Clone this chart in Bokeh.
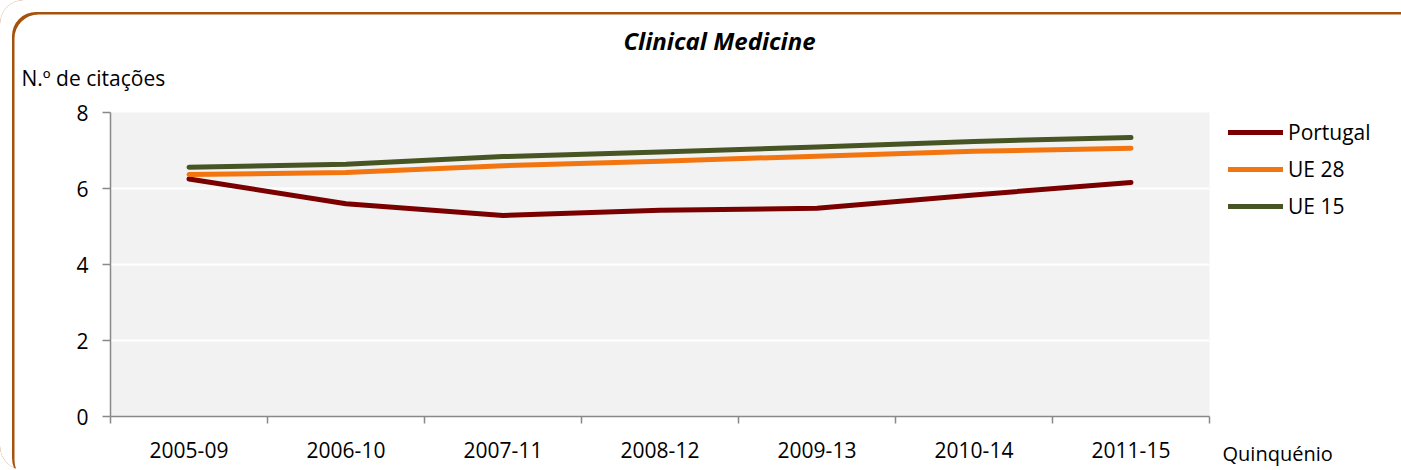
from bokeh.plotting import figure
from bokeh.models import (Range1d, FixedTicker, Legend, LegendItem, Label)
from bokeh.embed import file_html
from bokeh.resources import INLINE

categories = ["2005-09", "2006-10", "2007-11", "2008-12", "2009-13", "2010-14", "2011-15"]
portugal = [6.25, 5.60, 5.29, 5.43, 5.48, 5.83, 6.16]
ue28 = [6.37, 6.42, 6.60, 6.72, 6.85, 6.98, 7.06]
ue15 = [6.56, 6.64, 6.84, 6.96, 7.09, 7.24, 7.34]
y_ticks = [0, 2, 4, 6, 8]

FONT = "Open Sans"
FS = "21px"

xs = [i + 0.5 for i in range(len(categories))]

p = figure(frame_width=1099, frame_height=304, x_range=Range1d(0, len(categories)),
           y_range=Range1d(0, 8), output_backend="svg", toolbar_location=None,
           min_border_left=110, min_border_right=192, min_border_top=112,
           min_border_bottom=54)
p.background_fill_color = "#F2F2F2"
p.border_fill_color = None
p.outline_line_color = None
p.styles = {"border-radius": "24px",
            "box-shadow": "inset 12px 12px 0 0 #ffffff, inset 14.5px 14.5px 0 0 #A5520C"}

# axes
p.xaxis.ticker = FixedTicker(ticks=xs, minor_ticks=list(range(len(categories) + 1)))
p.xaxis.major_label_overrides = {x: c for x, c in zip(xs, categories)}
p.xaxis.major_tick_line_color = None
p.xaxis.major_tick_out = 0
p.xaxis.major_tick_in = 0
p.xaxis.minor_tick_out = 7
p.xaxis.minor_tick_in = 0
p.xaxis.minor_tick_line_color = "#898989"
p.xaxis.minor_tick_line_width = 1.5
p.xaxis.major_label_standoff = 18

p.yaxis.ticker = FixedTicker(ticks=y_ticks)
p.yaxis.major_tick_out = 8
p.yaxis.major_tick_in = 0
p.yaxis.minor_tick_line_color = None
p.yaxis.major_tick_line_color = "#898989"
p.yaxis.major_tick_line_width = 1.5
p.yaxis.major_label_standoff = 14

for ax in (p.xaxis, p.yaxis):
    ax.axis_line_color = "#898989"
    ax.axis_line_width = 1.5
    ax.major_label_text_font = FONT
    ax.major_label_text_font_size = FS
    ax.major_label_text_color = "#000000"

p.xgrid.grid_line_color = None
p.ygrid.ticker = FixedTicker(ticks=y_ticks)
p.ygrid.grid_line_color = "#FFFFFF"
p.ygrid.grid_line_width = 2

# series
r1 = p.line(xs, portugal, line_color="#7A0000", line_width=5, line_cap="round", line_join="round")
r2 = p.line(xs, ue28, line_color="#F27510", line_width=5, line_cap="round", line_join="round")
r3 = p.line(xs, ue15, line_color="#475424", line_width=5, line_cap="round", line_join="round")

legend = Legend(items=[LegendItem(label="Portugal", renderers=[r1]),
                       LegendItem(label="UE 28", renderers=[r2]),
                       LegendItem(label="UE 15", renderers=[r3])],
                location=(19, 195), orientation="vertical",
                glyph_width=55, glyph_height=30, label_height=30, spacing=7,
                label_standoff=5, padding=0, margin=0,
                border_line_color=None, background_fill_alpha=0,
                label_text_font=FONT, label_text_font_size=FS,
                label_text_color="#000000")
p.add_layout(legend, "right")

# texts (placed in side panels so they are not clipped to the plot frame)
p.add_layout(Label(x=3.879, y=9.895,
                   text="Clinical Medicine", text_font=FONT, text_font_size="24px",
                   text_font_style="bold italic", text_align="center",
                   text_baseline="middle", text_color="#000000"), "above")
p.add_layout(Label(x=-0.567, y=8.92,
                   text="N.º de citações", text_font=FONT, text_font_size=FS,
                   text_align="left", text_baseline="middle", text_color="#000000"), "above")
p.add_layout(Label(x=7.083, y=-0.98,
                   text="Quinquénio", text_font=FONT, text_font_size="20px",
                   text_align="left", text_baseline="middle", text_color="#000000"), "right")

open("out.html", "w").write(file_html(p, INLINE))
